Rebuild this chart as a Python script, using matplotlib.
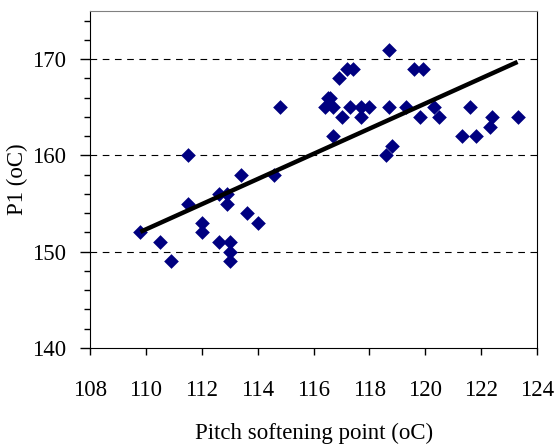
import numpy as np
import matplotlib
matplotlib.use("Agg")
import matplotlib.pyplot as plt
from matplotlib.ticker import MultipleLocator

# pitch softening point (oC) vs P1 (oC)
softening = [109.8, 110.5, 110.9, 111.5, 111.5, 112.0, 112.0, 112.6, 112.6, 112.9,
             112.9, 113.0, 113.0, 113.0, 113.4, 113.6, 114.0, 114.6, 114.8,
             116.4, 116.5, 116.6, 116.7, 116.7, 116.9, 117.0, 117.2, 117.3, 117.4,
             117.7, 117.7, 118.0, 118.6, 118.7, 118.7, 118.8, 119.3, 119.6, 119.8,
             119.9, 120.3, 120.5, 121.3, 121.6, 121.8, 122.3, 122.4, 123.3]
p1 = [152, 151, 149, 160, 155, 153, 152, 156, 151, 156,
      155, 151, 150, 149, 158, 154, 153, 158, 165,
      165, 166, 166, 165, 162, 168, 164, 169, 165, 169,
      165, 164, 165, 160, 171, 165, 161, 165, 169, 164,
      169, 165, 164, 162, 165, 162, 163, 164, 164]

x_ticks = list(range(108, 125, 2))
y_ticks = [140, 150, 160, 170]

plt.rcParams['font.family'] = ['Liberation Serif', 'DejaVu Serif']
fs = 16.5

fig = plt.figure(figsize=(5.56, 4.45), dpi=100)
ax = fig.add_axes([0.162, 0.218, 0.804, 0.757])

for y in y_ticks[1:]:
    ax.axhline(y, color='black', lw=0.8, ls=(0, (6, 5)), zorder=1)

ax.scatter(softening, p1, marker='D', s=56, color='#000080', zorder=3, linewidths=0)

# linear trend line
k, b = np.polyfit(softening, p1, 1)
xs = np.array([min(softening), max(softening)])
ax.plot(xs, k * xs + b, color='black', lw=3.2, zorder=4, solid_capstyle='butt')

ax.set_xlim(108, 124)
ax.set_ylim(140, 175)
ax.set_xticks(x_ticks)
ax.set_yticks(y_ticks)
ax.yaxis.set_minor_locator(MultipleLocator(2))

ax.tick_params(axis='both', which='both', direction='out', labelsize=fs, width=1)
ax.tick_params(axis='y', which='major', length=7, pad=10)
ax.tick_params(axis='y', which='minor', length=4)
ax.tick_params(axis='x', which='major', length=5, pad=18)

for side in ['left', 'bottom', 'right']:
    ax.spines[side].set_color('black')
ax.spines['top'].set_color('#808080')

ax.set_xlabel('Pitch softening point (oC)', fontsize=fs, labelpad=16)
ax.set_ylabel('P1 (oC)', fontsize=fs, labelpad=3)

fig.savefig('out.png', dpi=100)
